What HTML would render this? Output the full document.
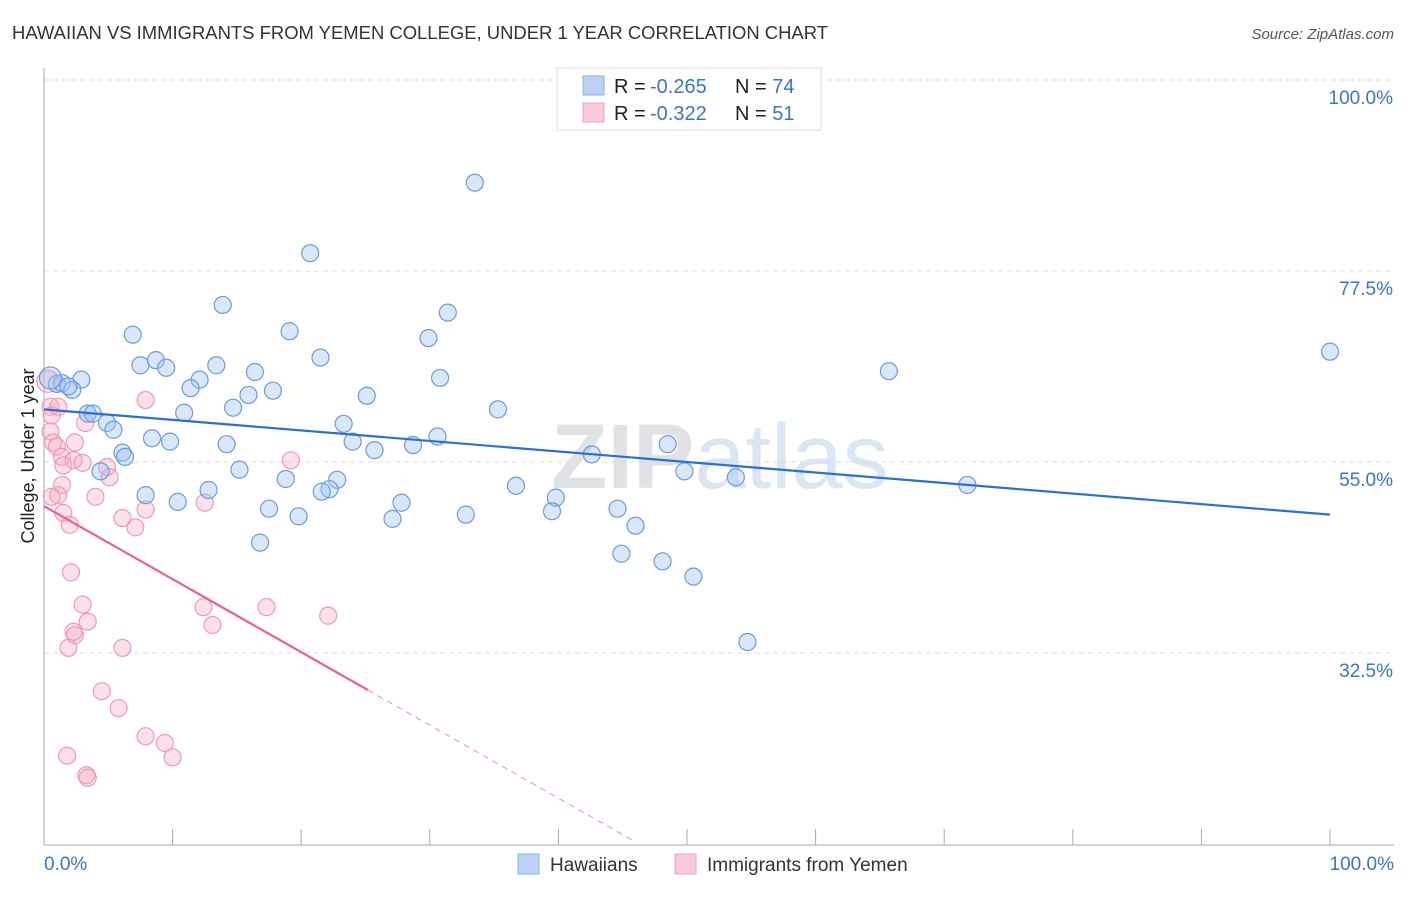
<!DOCTYPE html>
<html><head><meta charset="utf-8">
<style>
body{margin:0;background:#fff;font-family:"Liberation Sans",sans-serif;}
svg text{font-family:"Liberation Sans",sans-serif;}
</style></head>
<body>
<svg id="chart" width="1406" height="892" viewBox="0 0 1406 892" xmlns="http://www.w3.org/2000/svg">
<text x="12" y="39" font-size="18" fill="#333" textLength="816" lengthAdjust="spacingAndGlyphs">HAWAIIAN VS IMMIGRANTS FROM YEMEN COLLEGE, UNDER 1 YEAR CORRELATION CHART</text>
<text x="1394" y="39" font-size="15" fill="#555" text-anchor="end" font-style="italic">Source: ZipAtlas.com</text>
<text x="720" y="488" font-size="92" fill="#e4e8ee" text-anchor="middle" font-family="Liberation Serif"><tspan fill="#e0e2e6" font-weight="bold">ZIP</tspan><tspan fill="#dbe6f4">atlas</tspan></text>
<g id="grid"></g>
<g id="axes"></g>
<g id="marks"></g>
<text transform="translate(34,456) rotate(-90)" font-size="18" fill="#222" text-anchor="middle">College, Under 1 year</text>
<g>
<rect x="557" y="68" width="264" height="62" fill="#fff" stroke="#ddd"/>
<rect x="583" y="76" width="21" height="19" fill="#bcd3f5" stroke="#8db0e6"/>
<rect x="583" y="103" width="21" height="19" fill="#f9c9d7" stroke="#eea5bc"/>
<text x="614" y="93" font-size="20" fill="#222">R = <tspan x="650" fill="#3a73d0">-0.265</tspan><tspan x="735">N = </tspan><tspan fill="#3a73d0">74</tspan></text>
<text x="614" y="120" font-size="20" fill="#222">R = <tspan x="650" fill="#3a73d0">-0.322</tspan><tspan x="735">N = </tspan><tspan fill="#3a73d0"> 51</tspan></text>
</g>
<g>
<rect x="518" y="854" width="21" height="20" fill="#bcd3f5" stroke="#8db0e6"/>
<text x="550" y="871" font-size="19" fill="#333">Hawaiians</text>
<rect x="675" y="854" width="21" height="20" fill="#f9c9d7" stroke="#eea5bc"/>
<text x="707" y="871" font-size="19" fill="#333">Immigrants from Yemen</text>
</g>
</svg>
<script>
const yTicks=[100,77.5,55,32.5];
const yTickLabels=["100.0%","77.5%","55.0%","32.5%"];
const xTickLabels=["0.0%","100.0%"];
const blueX=[33.5,20.7,13.9,31.4,6.9,19.1,29.9,100,8.7,7.5,9.5,13.4,21.5,65.7,16.4,2.9,1.0,1.4,2.2,1.9,12.1,11.4,30.8,17.8,15.9,25.1,14.7,35.3,3.4,3.8,10.9,4.9,5.4,23.3,8.4,9.8,14.2,24.0,30.6,28.7,25.7,48.5,42.6,6.1,6.3,15.2,4.4,49.8,53.8,22.8,18.8,36.7,71.8,22.2,21.6,12.8,7.9,39.8,10.4,27.8,17.5,44.6,39.5,19.8,32.8,27.1,46.0,16.8,44.9,48.1,50.5,54.7,0.5];
const blueY=[87.9,79.6,73.5,72.6,70.0,70.4,69.6,68.0,67.0,66.4,66.1,66.4,67.3,65.7,65.6,64.7,64.2,64.3,63.5,63.9,64.7,63.7,64.9,63.4,62.9,62.8,61.4,61.2,60.7,60.7,60.8,59.6,58.8,59.5,57.8,57.4,57.1,57.4,58.0,57.0,56.4,57.1,55.9,56.1,55.6,54.1,53.9,53.9,53.2,52.9,53.0,52.2,52.3,51.8,51.5,51.7,51.1,50.8,50.3,50.2,49.5,49.5,49.2,48.6,48.8,48.3,47.5,45.5,44.2,43.3,41.5,33.8,64.9];
const pinkX=[7.9,0.5,1.1,0.6,3.2,0.5,0.7,1.0,2.4,1.4,2.3,1.5,3.0,4.9,5.1,19.2,1.4,1.1,0.6,4.0,1.5,2.0,7.9,6.1,7.1,12.5,2.1,3.0,3.4,2.3,2.4,1.9,6.1,12.4,13.1,17.3,22.1,4.5,5.8,7.9,9.4,10.0,1.8,3.3,3.4,0.3];
const pinkY=[62.3,61.5,61.5,60.5,59.6,58.6,57.3,56.8,57.3,55.6,55.2,54.6,54.9,54.4,53.2,55.2,52.3,51.1,50.9,50.9,49.0,47.6,49.4,48.4,47.3,50.2,42.0,38.2,36.2,35.0,34.6,33.1,33.1,37.9,35.8,37.9,36.9,28.0,26.0,22.7,21.9,20.2,20.4,18.1,17.8,64.5];
const blueTrend=[61.2,-0.124];
const pinkTrend=[49.8,-0.86];
const pinkSolidEnd=25.2, pinkDashEnd=46;

const NS="http://www.w3.org/2000/svg";
const xs=v=>44+v*12.86;
const ys=v=>80+(100-v)/22.5*191;
function mk(tag,attrs,parent){const e=document.createElementNS(NS,tag);for(const k in attrs)e.setAttribute(k,attrs[k]);parent.appendChild(e);return e;}
const grid=document.getElementById('grid'),axes=document.getElementById('axes'),marks=document.getElementById('marks');
yTicks.forEach((t,i)=>{
  const l=mk('line',{x1:44,x2:1394,y1:ys(t),y2:ys(t),stroke:'#dcdcdc','stroke-dasharray':'5,4'},grid);
  
  
  const tx=mk('text',{x:1393,y:ys(t)+24,'font-size':19,fill:'#3a73d0','text-anchor':'end'},axes);
  tx.textContent=yTickLabels[i];
  
  
});
let a=mk('line',{x1:44,x2:44,y1:68,y2:845,stroke:'#aaa'},axes);


a=mk('line',{x1:44,x2:1394,y1:845,y2:845,stroke:'#aaa'},axes);


for(let i=1;i<=10;i++){
  const t=mk('line',{x1:xs(i*10),x2:xs(i*10),y1:829,y2:845,stroke:'#aaa'},axes);
  
  
}
[[0,'start',44],[100,'end',1394]].forEach((d,i)=>{
  const tx=mk('text',{x:d[2],y:870,'font-size':19,fill:'#3a73d0','text-anchor':d[1]},axes);
  tx.textContent=xTickLabels[i];
  
  
});
pinkX.forEach((x,i)=>{
  const c=mk('circle',{cx:xs(x),cy:ys(pinkY[i]),r:i===pinkX.length-1?11:8.5,fill:'rgba(246,170,195,0.35)',stroke:'#ee9ab5','stroke-width':1.2},marks);
  
  
});
blueX.forEach((x,i)=>{
  const c=mk('circle',{cx:xs(x),cy:ys(blueY[i]),r:i===blueX.length-1?11:8.5,fill:'rgba(160,195,240,0.4)',stroke:'#6b9be0','stroke-width':1.2},marks);
  
  
});
let ln=mk('line',{x1:xs(0),y1:ys(blueTrend[0]),x2:xs(100),y2:ys(blueTrend[0]+blueTrend[1]*100),stroke:'#2a6fd6','stroke-width':2.2},marks);


ln=mk('line',{x1:xs(0),y1:ys(pinkTrend[0]),x2:xs(pinkSolidEnd),y2:ys(pinkTrend[0]+pinkTrend[1]*pinkSolidEnd),stroke:'#e8628e','stroke-width':2.2},marks);


ln=mk('line',{x1:xs(pinkSolidEnd),y1:ys(pinkTrend[0]+pinkTrend[1]*pinkSolidEnd),x2:xs(pinkDashEnd),y2:ys(pinkTrend[0]+pinkTrend[1]*pinkDashEnd),stroke:'#eea0b8','stroke-width':1.2,'stroke-dasharray':'6,5'},marks);


</script>
</body></html>
